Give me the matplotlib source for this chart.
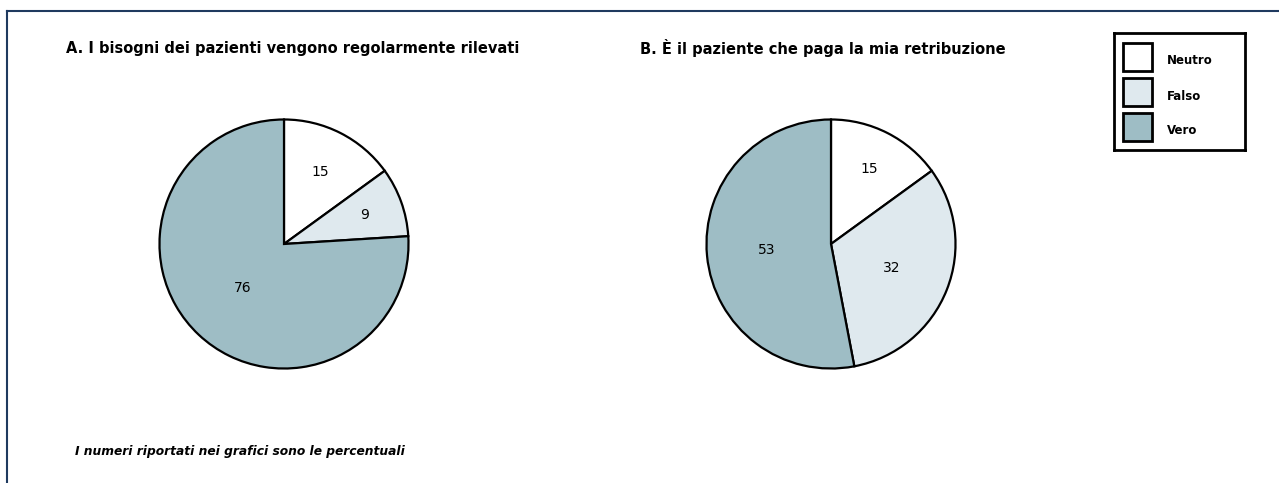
import matplotlib
matplotlib.use("Agg")
import matplotlib.pyplot as plt
from matplotlib.lines import Line2D
from matplotlib.patches import Rectangle

categories = ["Neutro", "Falso", "Vero"]
values_a = [15, 9, 76]
values_b = [15, 32, 53]
title_a = "A. I bisogni dei pazienti vengono regolarmente rilevati"
title_b = "B. È il paziente che paga la mia retribuzione"
footnote = "I numeri riportati nei grafici sono le percentuali"

colors = ["#ffffff", "#dfe9ee", "#9ebdc5"]

W, H = 1279, 483
fig = plt.figure(figsize=(W / 100, H / 100), dpi=100)
fig.patch.set_facecolor("white")

def px_axes(x0, y0, w, h):
    return fig.add_axes([x0 / W, (H - y0 - h) / H, w / W, h / H])

def draw_pie(ax, vals, dists):
    labs = [str(v) for v in vals]
    wedges, texts = ax.pie(vals, colors=colors, startangle=90, counterclock=False,
                           labels=labs, labeldistance=0.6,
                           wedgeprops=dict(edgecolor="black", linewidth=1.6),
                           textprops=dict(fontsize=10, color="black"))
    for t, d in zip(texts, dists):
        x, y = t.get_position()
        s = d / 0.6
        t.set_position((x * s, y * s))
        t.set_ha("center")
        t.set_va("center")
    ax.set_xlim(-1.02, 1.02)
    ax.set_ylim(-1.02, 1.02)
    ax.set_aspect("equal")
    ax.axis("off")
    return wedges

r = 127
ax1 = px_axes(284 - r, 244 - r, 2 * r, 2 * r)
draw_pie(ax1, values_a, [0.65, 0.69, 0.48])
ax2 = px_axes(831 - r, 244 - r, 2 * r, 2 * r)
draw_pie(ax2, values_b, [0.68, 0.52, 0.52])

fig.text(66 / W, 1 - 48 / H, title_a, fontsize=10.5, fontweight="bold",
         ha="left", va="center")
fig.text(640 / W, 1 - 48 / H, title_b, fontsize=10.5, fontweight="bold",
         ha="left", va="center")
fig.text(75 / W, 1 - 452 / H, footnote, fontsize=8.8, style="italic",
         fontweight="bold", ha="left", va="center")

# legend box drawn in its own pixel-coordinate axes
lx0, ly0, lw, lh = 1114, 33, 131, 117
lax = px_axes(lx0, ly0, lw, lh)
lax.set_xlim(0, lw)
lax.set_ylim(lh, 0)
lax.set_xticks([])
lax.set_yticks([])
for sp in lax.spines.values():
    sp.set_linewidth(2)
    sp.set_color("black")
for i, (cat, col) in enumerate(zip(categories, colors)):
    top = 10 + i * 35
    lax.add_patch(Rectangle((9, top), 29, 28, facecolor=col, edgecolor="black",
                            linewidth=2))
    lax.text(53, top + 18, cat, fontsize=8.5, fontweight="bold",
             ha="left", va="center")

fig.add_artist(Line2D([7 / W, 1], [1 - 11 / H, 1 - 11 / H], color="#1f3a5f",
                      linewidth=1.5, transform=fig.transFigure))
fig.add_artist(Line2D([7 / W, 7 / W], [0, 1 - 11 / H], color="#1f3a5f",
                      linewidth=1.5, transform=fig.transFigure))

fig.savefig("out.png", dpi=100)
